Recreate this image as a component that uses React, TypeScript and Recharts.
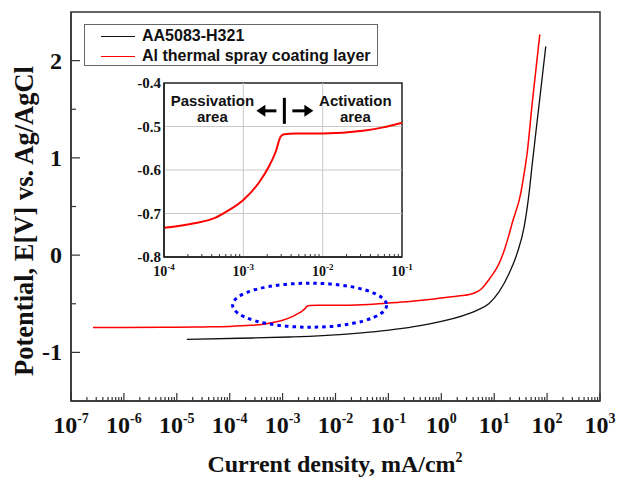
import React from "react";
import {
  LineChart,
  Line,
  XAxis,
  YAxis,
  Legend,
  ReferenceArea,
  ReferenceDot,
  ReferenceLine,
} from "recharts";

// AA5083-H321 bare alloy
const alloyCurrent = [1.55e-5, 1.5e-4, 1.35e-3, 3.2e-3, 5e-2, 0.45, 3.4, 4.8, 8.0, 12.4, 19.2, 27.2, 36.8, 45.7, 51.4, 70.6, 94.4];
const alloyPotential = [-0.866, -0.855, -0.842, -0.835, -0.79, -0.72, -0.6, -0.565, -0.497, -0.376, -0.186, 0.02, 0.29, 0.64, 0.897, 1.55, 2.147];

// Al thermal spray coating layer
const coatingCurrent = [
  2.6e-7, 1e-6, 1e-5, 3.2e-5, 1.0e-4, 2.5e-4, 4.4e-4, 6.5e-4, 1.0e-3, 1.6e-3, 2.1e-3, 2.56e-3, 2.96e-3, 3.27e-3,
  4.6e-3, 1e-2, 3.2e-2, 5.8e-2, 9.9e-2, 0.25, 0.59, 1.0, 2.5, 3.4, 5.0, 5.9, 8.0, 10.7, 12.4, 15.5, 18.6, 21.9,
  31.9, 36.8, 42, 52, 72.8,
];
const coatingPotential = [
  -0.745, -0.744, -0.741, -0.738, -0.733, -0.722, -0.71, -0.693, -0.669, -0.627, -0.592, -0.558, -0.523, -0.518,
  -0.516, -0.516, -0.51, -0.502, -0.492, -0.478, -0.457, -0.44, -0.415, -0.405, -0.37, -0.34, -0.25, -0.15,
  -0.085, 0.05, 0.19, 0.33, 0.64, 0.84, 1.05, 1.55, 2.27,
];

const seriesNames = ["AA5083-H321", "Al thermal spray coating layer"];
const mainDecades = [-7, -6, -5, -4, -3, -2, -1, 0, 1, 2, 3];
const mainYTicks = [-1, -0.5, 0, 0.5, 1, 1.5, 2];
const insetDecades = [-4, -3, -2, -1];
const insetYTicks = [-0.8, -0.7, -0.6, -0.5, -0.4];
const insetGridX = [1e-3, 1e-2];
const insetGridY = [-0.7, -0.6, -0.5];

const alloyData = alloyCurrent.map((i, k) => ({ i, e: alloyPotential[k] }));
const coatingData = coatingCurrent.map((i, k) => ({ i, e: coatingPotential[k] }));

function logTicks(decades: number[]) {
  const out: number[] = [];
  decades.forEach((d, idx) => {
    out.push(Math.pow(10, d));
    if (idx < decades.length - 1) {
      for (let m = 2; m <= 9; m++) out.push(m * Math.pow(10, d));
    }
  });
  return out;
}

const isDecade = (v: number) => Math.abs(Math.log10(v) - Math.round(Math.log10(v))) < 1e-9;

const SERIF = "'Liberation Serif', 'Times New Roman', serif";
const SANS = "'Liberation Sans', Arial, sans-serif";
const AXIS = "#333";

function MainXTick({ x, y, payload }: any) {
  const v = payload.value;
  const major = isDecade(v);
  const exp = Math.round(Math.log10(v));
  return (
    <g>
      <line x1={x} x2={x} y1={y} y2={y - (major ? 8 : 4)} stroke={AXIS} strokeWidth={1.2} />
      {major && (
        <text x={x} y={y + 32} textAnchor="middle" fontFamily={SERIF} fontWeight="bold" fontSize={24} fill="#111">
          10
          <tspan dy={-10} fontSize={14}>
            {exp}
          </tspan>
        </text>
      )}
    </g>
  );
}

function MainYTick({ x, y, payload }: any) {
  const v = payload.value;
  const major = Number.isInteger(v);
  return (
    <g>
      <line x1={x} x2={x + (major ? 9 : 5)} y1={y} y2={y} stroke={AXIS} strokeWidth={1.2} />
      {major && (
        <text x={x - 9} y={y + 8} textAnchor="end" fontFamily={SERIF} fontWeight="bold" fontSize={24} fill="#111">
          {v}
        </text>
      )}
    </g>
  );
}

function InsetXTick({ x, y, payload }: any) {
  const v = payload.value;
  const major = isDecade(v);
  const exp = Math.round(Math.log10(v));
  return (
    <g>
      {!major && <line x1={x} x2={x} y1={y} y2={y - 3} stroke={AXIS} strokeWidth={1} />}
      {major && (
        <text x={x} y={y + 19} textAnchor="middle" fontFamily={SERIF} fontWeight="bold" fontSize={14} fill="#111">
          10
          <tspan dy={-6} fontSize={9}>
            {exp}
          </tspan>
        </text>
      )}
    </g>
  );
}

function InsetYTick({ x, y, payload }: any) {
  return (
    <text x={x - 3} y={y + 5} textAnchor="end" fontFamily={SERIF} fontWeight="bold" fontSize={15} fill="#111">
      {payload.value.toFixed(1)}
    </text>
  );
}

function Ellipse({ cx, cy }: any) {
  return (
    <ellipse cx={cx} cy={cy} rx={77} ry={22} fill="none" stroke="#0000ff" strokeWidth={3} strokeDasharray="3.5 4" />
  );
}

function Arrows({ cx, cy }: any) {
  const t = { fontFamily: SANS, fontWeight: "bold" as const, fontSize: 15, fill: "#111", textAnchor: "middle" as const };
  return (
    <g>
      <rect x={cx - 1.5} y={cy - 13} width={3} height={26} fill="#000" />
      <polygon points={`${cx - 28},${cy} ${cx - 19},${cy - 6} ${cx - 19},${cy + 6}`} fill="#000" />
      <rect x={cx - 20} y={cy - 1.5} width={12} height={3} fill="#000" />
      <polygon points={`${cx + 29},${cy} ${cx + 20},${cy - 6} ${cx + 20},${cy + 6}`} fill="#000" />
      <rect x={cx + 8} y={cy - 1.5} width={13} height={3} fill="#000" />
      <text x={cx - 72} y={cy - 5} {...t}>Passivation</text>
      <text x={cx - 72} y={cy + 11} {...t}>area</text>
      <text x={cx + 71} y={cy - 5} {...t}>Activation</text>
      <text x={cx + 71} y={cy + 11} {...t}>area</text>
    </g>
  );
}

function LegendBox({ payload }: any) {
  return (
    <div style={{ width: "100%", height: "100%", border: "1px solid #666", background: "#fff", boxSizing: "border-box" }}>
      {(payload || []).map((p: any, k: number) => (
        <div key={k} style={{ position: "absolute", left: 17, top: 2 + k * 20, height: 20, display: "flex", alignItems: "center" }}>
          <div style={{ width: 34, height: 0, borderTop: `1px solid ${p.color}` }} />
          <span style={{ marginLeft: 7, fontFamily: SANS, fontWeight: "bold", fontSize: 16, color: "#111", whiteSpace: "nowrap" }}>
            {p.value}
          </span>
        </div>
      ))}
    </div>
  );
}

export default function App() {
  return (
    <div style={{ position: "absolute", left: 0, top: 0, width: 617, height: 483, background: "#fff" }}>
      <LineChart width={617} height={483} margin={{ top: 12, right: 17, bottom: 0, left: 0 }}>
        <XAxis
          dataKey="i"
          type="number"
          scale="log"
          domain={[1e-7, 1e3]}
          ticks={logTicks(mainDecades)}
          interval={0}
          allowDataOverflow
          height={82}
          tickSize={0}
          tickMargin={0}
          tickLine={false}
          tick={<MainXTick />}
          axisLine={{ stroke: AXIS, strokeWidth: 1.5 }}
          label={{
            content: () => (
              <text x={335} y={472} textAnchor="middle" fontFamily={SERIF} fontWeight="bold" fontSize={24} fill="#111">
                Current density, mA/cm
                <tspan dy={-10} fontSize={14}>2</tspan>
              </text>
            ),
          }}
        />
        <YAxis
          type="number"
          domain={[-1.5, 2.5]}
          ticks={mainYTicks}
          interval={0}
          allowDataOverflow
          width={71}
          tickSize={0}
          tickMargin={0}
          tickLine={false}
          tick={<MainYTick />}
          axisLine={{ stroke: AXIS, strokeWidth: 1.5 }}
          label={{
            content: () => (
              <text
                x={24}
                y={221}
                transform="rotate(-90, 24, 221)"
                textAnchor="middle"
                dy="0.35em"
                fontFamily={SERIF}
                fontWeight="bold"
                fontSize={26.5}
                fill="#111"
              >
                Potential, E[V] vs. Ag/AgCl
              </text>
            ),
          }}
        />
        <ReferenceArea x1={1e-7} x2={1e3} y1={-1.5} y2={2.5} fill="none" stroke={AXIS} strokeWidth={1.5} ifOverflow="visible" />
        <ReferenceDot x={3.24e-3} y={-0.515} shape={<Ellipse />} ifOverflow="visible" />
        <Line data={alloyData} dataKey="e" name={seriesNames[0]} stroke="#111" strokeWidth={1.3} dot={false} type="monotone" isAnimationActive={false} />
        <Line data={coatingData} dataKey="e" name={seriesNames[1]} stroke="#ff0000" strokeWidth={1.5} dot={false} type="monotone" isAnimationActive={false} />
        <Legend
          layout="vertical"
          align="center"
          verticalAlign="middle"
          content={<LegendBox />}
          wrapperStyle={{ position: "absolute", left: 84, top: 24, width: 294, height: 42 }}
        />
      </LineChart>

      <div style={{ position: "absolute", left: 120, top: 70 }}>
        <LineChart width={300} height={215} margin={{ top: 13, right: 18, bottom: 0, left: 0 }}>
          <XAxis
            dataKey="i"
            type="number"
            scale="log"
            domain={[1e-4, 1e-1]}
            ticks={logTicks(insetDecades)}
            interval={0}
            allowDataOverflow
            height={28}
            tickSize={0}
            tickMargin={0}
            tickLine={false}
            tick={<InsetXTick />}
            axisLine={{ stroke: "#222", strokeWidth: 1.5 }}
          />
          <YAxis
            type="number"
            domain={[-0.8, -0.4]}
            ticks={insetYTicks}
            interval={0}
            allowDataOverflow
            width={44}
            tickSize={0}
            tickMargin={0}
            tickLine={false}
            tick={<InsetYTick />}
            axisLine={{ stroke: "#222", strokeWidth: 1.5 }}
          />
          {insetGridX.map((v) => (
            <ReferenceLine key={`gx${v}`} x={v} stroke="#c8c8c8" strokeWidth={1} />
          ))}
          {insetGridY.map((v) => (
            <ReferenceLine key={`gy${v}`} y={v} stroke="#c8c8c8" strokeWidth={1} />
          ))}
          <ReferenceArea x1={1e-4} x2={1e-1} y1={-0.8} y2={-0.4} fill="none" stroke="#222" strokeWidth={1.5} ifOverflow="visible" />
          <Line data={coatingData} dataKey="e" stroke="#ff0000" strokeWidth={2} dot={false} type="monotone" isAnimationActive={false} />
          <ReferenceDot x={3.29e-3} y={-0.464} shape={<Arrows />} ifOverflow="visible" />
        </LineChart>
      </div>
    </div>
  );
}
